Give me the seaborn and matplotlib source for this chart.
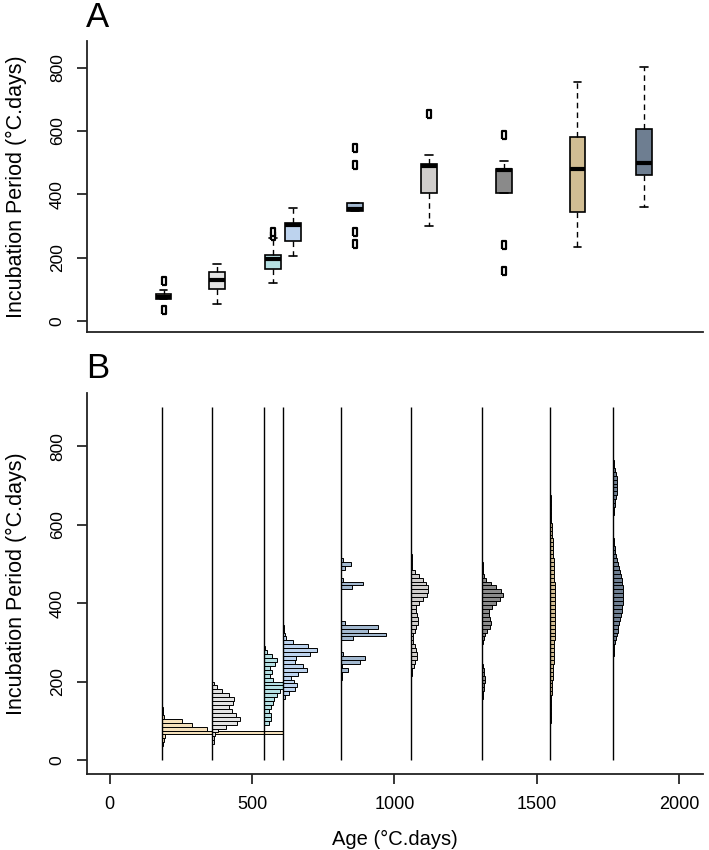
import matplotlib.pyplot as plt
import seaborn as sns
import numpy as np

# ages (°C.days) of the sampled groups, shared by both panels
ages = [182.5, 360, 543, 610, 813, 1057, 1306, 1548, 1767]
colors = ["#F5E1BC", "#E3E3E3", "#B5E0E3", "#BDD3EE", "#A3B9D0",
          "#D0CDCB", "#8A8A8A", "#D1BD93", "#6E7E91"]

# panel A: box summaries
q1 = [69, 101, 166, 253, 348, 405, 403, 346, 461]
med = [78, 130, 196, 303, 353, 490, 477, 479, 498]
q3 = [87, 156, 208, 309, 372, 495, 479, 582, 605]
whislo = [69, 53, 121, 205, 348, 301, 403, 235, 361]
whishi = [98, 182, 262, 356, 372, 524, 506, 756, 803]
fliers = [[126, 35], [], [270, 283], [], [547, 493, 280, 243],
          [653], [587, 242, 158], [], []]

# panel B: horizontal histograms, 10 °C.days bins, lower edge of first bin
hist_start = [35, 40, 90, 155, 205, 195, 105, 95, 255]
h1 = [1.5, 2, 3, 122, 46, 30, 20, 2, 1.5, 1]
h2 = [1.5, 2, 3, 6, 14, 25, 28, 24, 20, 17, 21, 22, 17, 10, 5, 2]
h3 = [5, 7, 6.5, 4.5, 6.5, 9, 10, 13, 16, 22, 19, 9, 6, 8, 6, 11, 13, 8, 3, 1]
h4 = [2, 6, 12, 14, 11, 8, 15, 24, 20, 12, 13, 27, 34, 25, 10, 3, 1.5, 1, 1]
h5 = [1, 1, 7, 1, 19, 24, 1.5, 0, 0, 0, 12, 45, 27, 37, 4,
      0, 0, 0, 0, 0, 0, 0, 0, 11, 22, 1.5, 0, 0, 4, 10, 1.5]
h6 = [0.3, 0.5, 1, 1.5, 3, 4.5, 6, 6.5, 5.5, 4, 2, 2, 2.5, 4, 5.5,
      7, 7.5, 6.5, 5, 5.5, 8.5, 12.5, 16, 17.5, 17, 15, 12, 8, 4.5, 1.5,
      1, 1, 1, 0.8, 0.6, 0.5, 0.4, 0.4, 0.3, 0.3, 0.2, 0.2, 0.1]
h7 = [0.2, 0.3, 0.4, 0.6, 0.8, 1.2, 1.8, 2.3, 3, 3.5, 3.5, 3, 2, 1.3, 0.8,
      0.5, 0.5, 0.5, 0.8, 1.5, 2.5, 4, 6, 8.5, 9.5, 9, 8, 8, 10.5, 15,
      19, 21.5, 20, 15, 10, 5, 2.5, 1.5, 1.2, 1, 0.8, 0.7, 0.5, 0.4, 0.3, 0.2]
h8 = [0.2, 0.3, 0.4, 0.5, 0.6, 0.8, 1, 1.2, 1.5, 1.7, 2, 2.2, 2.5, 2.7, 3,
      3.2, 3.4, 3.6, 3.8, 4, 4.1, 4.3, 4.4, 4.5, 4.6, 4.7, 4.8, 4.8, 4.8, 4.8,
      4.8, 4.7, 4.6, 4.5, 4.4, 4.3, 4.1, 4, 3.9, 3.7, 3.5, 3.3, 3.1, 2.9, 2.6,
      2.4, 2.2, 2, 1.8, 1.6, 1.3, 1.1, 0.9, 0.7, 0.5, 0.4, 0.3, 0.2]
h9 = [0.5, 0.8, 1.2, 1.7, 2.4, 3.2, 4, 4.8, 5.6, 6.5, 7.4, 8.2, 9, 9.6, 10.1,
      10.4, 10.6, 10.5, 10.2, 9.6, 9, 8.3, 7.4, 6.4, 5.4, 4.4, 3.4, 2.5, 1.8, 1.3,
      0.9, 0.6, 0.5, 0.4, 0.4, 0.4, 0.5, 0.8, 1.3, 1.9, 2.6, 3.3, 3.9, 4.3, 4.5,
      4.3, 3.8, 3, 2.2, 1.4, 0.8, 0.3]
hists = [h1, h2, h3, h4, h5, h6, h7, h8, h9]
bin_w = 10
hist_scale = 3.49  # relative frequency -> °C.days on the x axis

sns.set_style("ticks")
plt.rcParams['font.family'] = ['Liberation Sans', 'DejaVu Sans']
plt.rcParams.update({'text.color': 'black', 'axes.labelcolor': 'black',
                     'xtick.color': 'black', 'ytick.color': 'black'})

fig = plt.figure(figsize=(7.09, 8.5), dpi=100)
axA = fig.add_axes([0.1227, 0.6094, 0.8688, 0.3424])
axB = fig.add_axes([0.1227, 0.0894, 0.8688, 0.4482])

# ---- panel A: boxplots
stats = []
for i in range(len(ages)):
    stats.append(dict(med=med[i], q1=q1[i], q3=q3[i], whislo=whislo[i],
                      whishi=whishi[i], fliers=fliers[i]))
flier_marker = [(-0.55, -1), (0.55, -1), (0.55, 1), (-0.55, 1), (-0.55, -1)]
bp = axA.bxp(stats, positions=ages, widths=52, capwidths=26,
             patch_artist=True, manage_ticks=False,
             boxprops=dict(edgecolor='black', linewidth=1.2),
             medianprops=dict(color='black', linewidth=3.0, solid_capstyle='butt'),
             whiskerprops=dict(color='black', linewidth=1, linestyle=(0, (4, 3))),
             capprops=dict(color='black', linewidth=1.2),
             flierprops=dict(marker=flier_marker, markersize=5.5,
                             markerfacecolor='white', markeredgecolor='black',
                             markeredgewidth=1.6, linestyle='none'))
for patch, c in zip(bp['boxes'], colors):
    patch.set_facecolor(c)

axA.set_xlim(-70, 1962)
axA.set_ylim(-34, 884)
axA.set_xticks([])

# ---- panel B: histograms hanging off vertical lines
for i, h in enumerate(hists):
    h = np.array(h, dtype=float)
    centers = hist_start[i] + bin_w * (np.arange(len(h)) + 0.5)
    keep = h > 0
    axB.barh(centers[keep], h[keep] * hist_scale, height=bin_w, left=ages[i],
             color=colors[i], edgecolor='black', linewidth=0.7, zorder=2)
axB.vlines(ages, 0, 900, color='black', linewidth=1, zorder=3)

axB.set_xlim(-80, 2084)
axB.set_ylim(-36, 936)
axB.set_xticks([0, 500, 1000, 1500, 2000])
axB.set_xlabel('Age (°C.days)', fontsize=14.5, labelpad=12)

for ax in (axA, axB):
    sns.despine(ax=ax)
    for s in ('left', 'bottom'):
        ax.spines[s].set_linewidth(1.3)
        ax.spines[s].set_color('#222222')
    ax.set_yticks([0, 200, 400, 600, 800])
    ax.tick_params(axis='y', labelrotation=90, labelsize=12.5, length=7, width=1.1, pad=9)
    ax.tick_params(axis='x', labelsize=13, length=7, width=1.1, pad=9)
    for t in ax.get_yticklabels():
        t.set_va('center')
    ax.set_ylabel('Incubation Period (°C.days)', fontsize=15.5)
    ax.yaxis.set_label_coords(-0.098, 0.5)

fig.text(86 / 709, 1 - 27 / 850, 'A', fontsize=25, ha='left', va='baseline')
fig.text(86 / 709, 1 - 378 / 850, 'B', fontsize=25, ha='left', va='baseline')

fig.savefig('out.png', dpi=100)
